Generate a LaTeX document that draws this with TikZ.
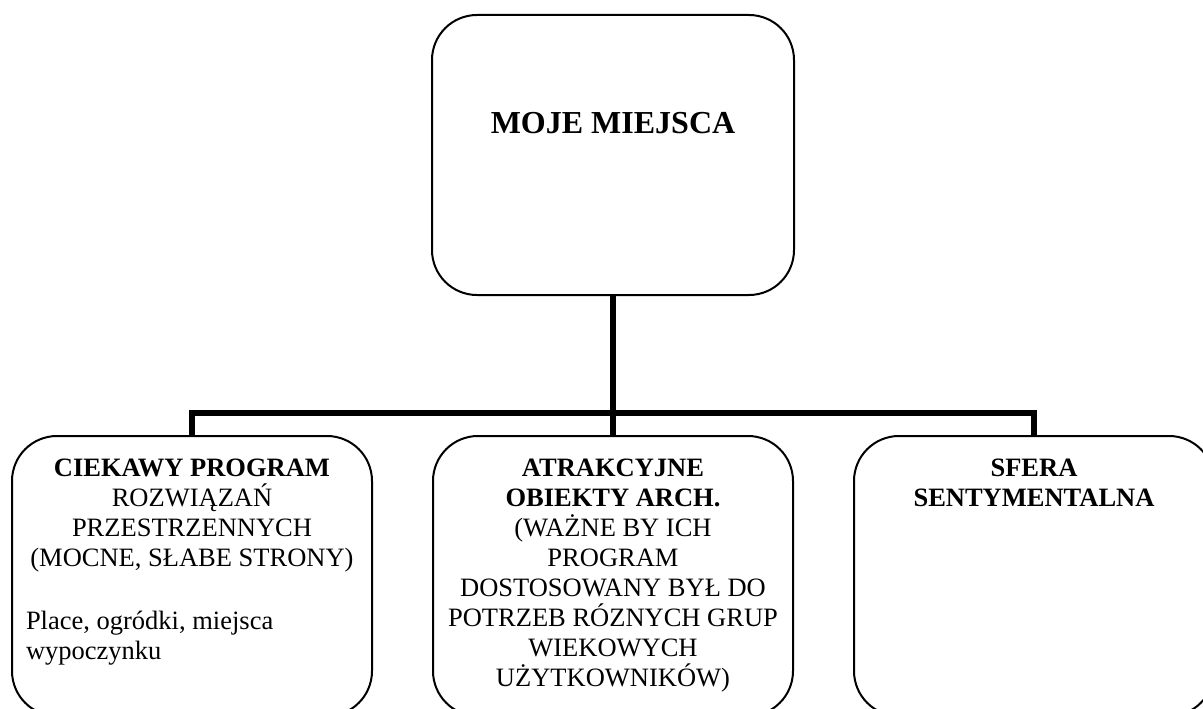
\documentclass[tikz,border=0pt]{standalone}
\usepackage{fontspec}
\setmainfont{Liberation Serif}
\begin{document}
\begin{tikzpicture}[x=1pt,y=-1pt,
  box/.style={draw,line width=2pt,rounded corners=45pt,inner sep=0pt,outer sep=0pt,minimum width=360pt,minimum height=280pt},
  conn/.style={line width=6pt},
  txt/.style={inner sep=0pt,outer sep=0pt,font=\fontsize{26.5}{30}\selectfont},
  big/.style={inner sep=0pt,outer sep=0pt,font=\fontsize{32}{36}\selectfont\bfseries}]
\useasboundingbox (0,0) rectangle (1203,709);
\clip (0,0) rectangle (1203,709);
\node[box,minimum width=362pt] (top) at (613,155) {};
\node[box] (b1) at (192,576) {};
\node[box] (b2) at (613,576) {};
\node[box] (b3) at (1034,576) {};
\coordinate (bar) at (613,413);
\draw[conn] (b1.north) |- (bar) -| (b3.north);
\draw[conn] (top.south) -- (b2.north);
\node[big,anchor=base] (t0) at (613,133) {MOJE MIEJSCA};
\node[txt,align=center,anchor=north] (t1) at (192,458.5) {\textbf{CIEKAWY PROGRAM}\\ROZWIĄZAŃ\\PRZESTRZENNYCH\\(MOCNE, SŁABE STRONY)};
\node[txt,align=left,anchor=north west] (t1b) at (26,611) {Place, ogródki, miejsca\\wypoczynku};
\node[txt,align=center,anchor=north] (t2) at (613,458.5) {\textbf{ATRAKCYJNE}\\\textbf{OBIEKTY ARCH.}\\(WAŻNE BY ICH\\PROGRAM\\DOSTOSOWANY BYŁ DO\\POTRZEB RÓZNYCH GRUP\\WIEKOWYCH\\UŻYTKOWNIKÓW)};
\node[txt,align=center,anchor=north] (t3) at (1034,458.5) {\textbf{SFERA}\\\textbf{SENTYMENTALNA}};
\end{tikzpicture}
\end{document}
